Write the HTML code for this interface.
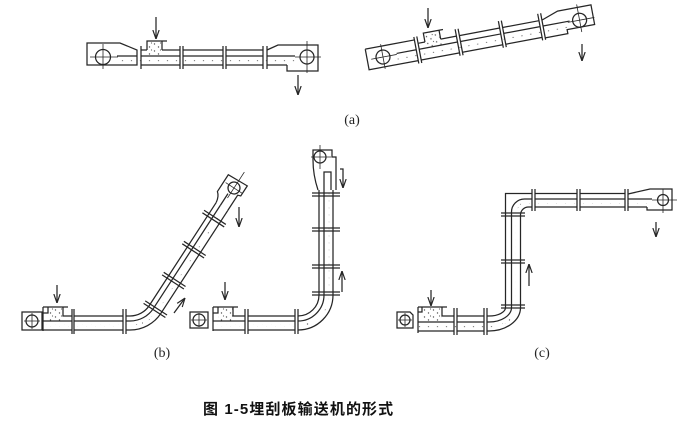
<!DOCTYPE html>
<html><head><meta charset="utf-8"><style>
html,body{margin:0;padding:0;background:#fff;}
svg{display:block;}
.d path,.d rect,.d circle,.d line{fill:none;stroke:#262626;stroke-width:1.25;}
.d .t{stroke-width:0.8;}
.d .dots{stroke:url(#dp);fill:none;}
.d .dotf{fill:url(#dp);stroke:none;}
</style></head><body>
<svg class="d" width="700" height="430" viewBox="0 0 700 430" xmlns="http://www.w3.org/2000/svg">
<defs>
<pattern id="dp" patternUnits="userSpaceOnUse" width="9" height="7">
<circle cx="1.5" cy="2" r="0.7" style="fill:#555;stroke:none"/>
<circle cx="5.5" cy="5" r="0.7" style="fill:#555;stroke:none"/>
<circle cx="7.5" cy="1" r="0.6" style="fill:#666;stroke:none"/>
</pattern>
<marker id="ah" viewBox="0 0 10 10" refX="10" refY="5" markerWidth="9" markerHeight="9" markerUnits="userSpaceOnUse" orient="auto">
<path d="M0,1.5 L10,5 L0,8.5" style="fill:none;stroke:#262626;stroke-width:1.3"/>
</marker>
</defs>

<!-- ===== (a) left ===== -->
<path class="dots" d="M117,60.5 H300" stroke-width="9"/>
<rect class="dotf" x="147" y="41" width="15" height="15"/>
<path d="M87,43 H120 L137,50 V65 H87 Z"/>
<circle cx="103" cy="57" r="7.5"/>
<path class="t" d="M90,57 H118 M103,44 V69"/>
<path d="M117,56 H137"/>
<path d="M141,46 V69 M180,46 V69 M183,46 V69 M223,46 V69 M226,46 V69 M263,46 V69 M267,46 V69"/>
<path d="M141,50 H147 M162,50 H180 M183,50 H223 M226,50 H263"/>
<path d="M141,56 H180 M183,56 H223 M226,56 H263"/>
<path d="M141,65 H180 M183,65 H223 M226,65 H263"/>
<path d="M147,50 V41 H167 M162,41 V50"/>
<path d="M267,50 L278,45 H318 V71 H287 V65 M267,65 H287 M267,56 H295"/>
<circle cx="307" cy="57" r="7"/>
<path class="t" d="M307,41 V73 M295,57 H321"/>
<path d="M156,17 V39" marker-end="url(#ah)"/>
<path d="M298,75 V95" marker-end="url(#ah)"/>

<!-- ===== (a) right (tilted) ===== -->
<g transform="translate(383,57) rotate(-10.6)">
<path class="dots" d="M14,4.5 H190" stroke-width="10"/>
<rect class="dotf" x="44" y="-16" width="16" height="15"/>
<path d="M-16,-11 H34 M-16,-11 V10 H34"/>
<circle cx="0" cy="0" r="7"/>
<path class="t" d="M-12,0 H14 M0,-13 V12"/>
<path d="M14,-1 H34"/>
<path d="M34,-14 V13 M37,-14 V13 M76,-14 V13 M79,-14 V13 M120,-14 V13 M123,-14 V13 M160,-14 V13 M163,-14 V13"/>
<path d="M37,-7 H44 M60,-7 H76 M79,-7 H120 M123,-7 H160"/>
<path d="M37,-1 H76 M79,-1 H120 M123,-1 H160"/>
<path d="M37,10 H76 M79,10 H120 M123,10 H160"/>
<path d="M44,-7 V-16 H64 M60,-16 V-7"/>
<path d="M163,-7 L180,-13 H214 V7 H186 V11 H163 M163,-1 H190"/>
<circle cx="200" cy="0" r="7"/>
<path class="t" d="M200,-16 V12 M188,0 H215"/>
</g>
<path d="M428,8 V28" marker-end="url(#ah)"/>
<path d="M582,44 V61" marker-end="url(#ah)"/>

<!-- ===== (b) left ===== -->
<path class="dots" d="M43,325.5 H130 A32.5,32.5 0 0 0 157.3,310.7 L224.1,207.9" stroke-width="9"/>
<rect class="dotf" x="48" y="307" width="15" height="14"/>
<rect x="22" y="312" width="20" height="18"/>
<circle cx="32" cy="321" r="6"/>
<path class="t" d="M24,321 H40 M32,313 V329"/>
<path d="M43,307 V331 M43,307 H68 M63,307 V316 H72 M48,307 V313 H43"/>
<path d="M43,321 H72 M43,330 H72"/>
<path d="M72,309 V334 M74,309 V334 M123,309 V334 M126,309 V334"/>
<path d="M74,316 H123 M74,321 H123 M74,330 H123"/>
<path d="M126,316 H130 A23,23 0 0 0 149.3,305.5 L216.1,202.7"/>
<path d="M126,321 H130 A28,28 0 0 0 153.5,308.3 L220.3,205.4"/>
<path d="M126,330 H130 A37,37 0 0 0 161,313.2 L227.9,210.3"/>
<g transform="translate(234,188) rotate(-57)">
<path d="M-35,-13 V13 M-38,-13 V13 M-72,-13 V13 M-75,-13 V13 M-109,-13 V13 M-112,-13 V13 M-143,-13 V13 M-146,-13 V13"/>
<path d="M-22,-7 Q-15,-8 -12,-12 L8,-12 L9,10 L-3,10 L-4,7 H-22"/>
<path d="M-22,-2 H-8"/>
<circle cx="0" cy="0" r="6"/>
<path class="t" d="M-12,0 H19 M0,-10 V10"/>
</g>
<path d="M57,285 V303" marker-end="url(#ah)"/>
<path d="M239,207 V227" marker-end="url(#ah)"/>
<path d="M174,313 L185,298" marker-end="url(#ah)"/>

<!-- ===== (b) right ===== -->
<path class="dots" d="M213,325.5 H298 A30.5,30.5 0 0 0 328.5,295 V190" stroke-width="9"/>
<rect class="dotf" x="218" y="307" width="15" height="14"/>
<rect x="190" y="312" width="18" height="16"/>
<circle cx="199" cy="320" r="6"/>
<path class="t" d="M191,320 H207 M199,313 V327"/>
<path d="M213,307 V331 M213,307 H238 M233,307 V316 H245 M218,307 V313 H213"/>
<path d="M213,321 H245 M213,330 H245"/>
<path d="M245,309 V334 M248,309 V334 M295,309 V334 M298,309 V334"/>
<path d="M248,316 H295 M248,321 H295 M248,330 H295"/>
<path d="M298,316 A21,21 0 0 0 319,295 V190"/>
<path d="M298,321 A26,26 0 0 0 324,295 V190"/>
<path d="M298,330 A35,35 0 0 0 333,295 V190"/>
<path d="M312,292 H340 M312,295 H340 M312,265 H340 M312,268 H340 M312,228 H340 M312,231 H340 M312,193 H340 M312,196 H340"/>
<path d="M318,190 Q313,175 313,160 V150 H332 V157 H336 V190"/>
<path d="M324,190 V172 H331 V190"/>
<circle cx="320" cy="157" r="6"/>
<path class="t" d="M320,145 V169 M311,157 H331"/>
<path d="M225,282 V300" marker-end="url(#ah)"/>
<path d="M340,169 H343 V188" marker-end="url(#ah)"/>
<path d="M342,292 V271" marker-end="url(#ah)"/>

<!-- ===== (c) ===== -->
<path class="dots" d="M418,326.5 H489 A27,19 0 0 0 516,307.5 V213 A10,10 0 0 1 526,203 H652" stroke-width="8"/>
<rect class="dotf" x="422" y="307" width="20" height="15"/>
<path d="M397,312 H410 L413,315 V328 H397 Z"/>
<circle cx="405" cy="320" r="5"/>
<path class="t" d="M398,320 H412 M405,313 V327"/>
<path d="M418,307 V333 M418,307 H447 M442,307 V316 H454 M422,307 V312 H418"/>
<path d="M418,322 H454 M418,331 H454"/>
<path d="M454,308 V335 M457,308 V335 M484,308 V335 M487,308 V335"/>
<path d="M457,316 H484 M457,322 H484 M457,331 H484"/>
<path d="M487,316 H489 A16.5,8.5 0 0 0 505.5,307.5 V193.5 H532"/>
<path d="M487,322 H489 A22.5,14.5 0 0 0 511.5,307.5 V212 A13,13 0 0 1 524.5,199 H532"/>
<path d="M487,331 H489 A31.5,23.5 0 0 0 520.5,307.5 V215 A8,8 0 0 1 528.5,207 H532"/>
<path d="M501,305 H525 M501,308 H525 M501,260 H525 M501,263 H525 M501,213 H525 M501,216 H525"/>
<path d="M532,189 V211 M535,189 V211 M577,189 V211 M580,189 V211 M625,189 V211 M628,189 V211"/>
<path d="M535,193.5 H577 M535,199 H577 M535,207 H577 M580,193.5 H625 M580,199 H625 M580,207 H625"/>
<path d="M628,194 L650,189 H672 V210 H647 V207 M628,207 H647 M628,199 H652"/>
<circle cx="663" cy="200" r="5.5"/>
<path class="t" d="M652,200 H677 M663,189 V213"/>
<path d="M431,290 V306" marker-end="url(#ah)"/>
<path d="M656,222 V237" marker-end="url(#ah)"/>
<path d="M529,286 V264" marker-end="url(#ah)"/>

<!-- labels -->
<text x="352" y="124" text-anchor="middle" font-family="'Liberation Serif', serif" font-size="14" fill="#222">(a)</text>
<text x="162" y="357" text-anchor="middle" font-family="'Liberation Serif', serif" font-size="14" fill="#222">(b)</text>
<text x="542" y="357" text-anchor="middle" font-family="'Liberation Serif', serif" font-size="14" fill="#222">(c)</text>
<text x="203" y="414" font-family="'Liberation Sans', 'Noto Sans CJK SC', sans-serif" font-size="15" font-weight="bold" letter-spacing="1.1" fill="#111">图 1-5埋刮板输送机的形式</text>
</svg>
</body></html>
